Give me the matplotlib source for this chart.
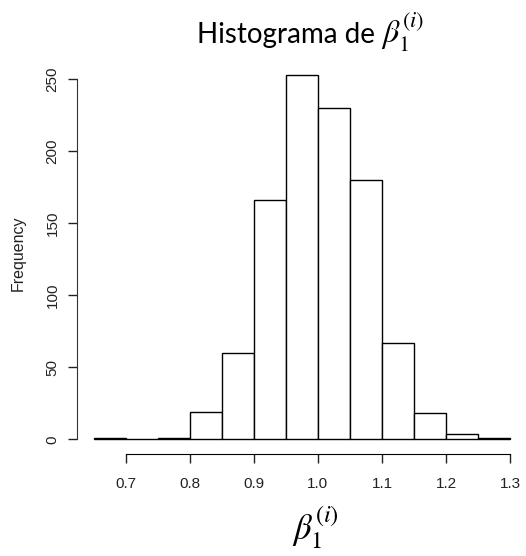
import numpy as np
import matplotlib
matplotlib.use('Agg')
import matplotlib.pyplot as plt

# bin edges and counts of the simulated slope estimates
bin_edges = [0.65, 0.70, 0.75, 0.80, 0.85, 0.90, 0.95, 1.00, 1.05, 1.10, 1.15, 1.20, 1.25, 1.30]
counts = [1, 0, 1, 19, 60, 166, 253, 230, 180, 67, 18, 4, 1]
x_ticks = [0.7, 0.8, 0.9, 1.0, 1.1, 1.2, 1.3]
y_ticks = [0, 50, 100, 150, 200, 250]

plt.rcParams['mathtext.fontset'] = 'stix'
plt.rcParams['font.family'] = ['Liberation Sans', 'DejaVu Sans']

fig = plt.figure(figsize=(5.26, 5.56), dpi=100)
ax = fig.add_axes([0.1464, 0.1835, 0.855, 0.7085])

lefts = np.array(bin_edges[:-1])
widths = np.diff(bin_edges)
ax.bar(lefts, counts, width=widths, align='edge', color='white',
       edgecolor='black', linewidth=1.0)

ax.set_xlim(0.624, 1.326)
ax.set_ylim(-10.12, 263.1)

# R style axes: only the spans of the ticks are drawn
for s in ['top', 'right']:
    ax.spines[s].set_visible(False)
ax.spines['left'].set_bounds(0, 250)
ax.spines['bottom'].set_bounds(0.7, 1.3)
ax.spines['left'].set_color('#333333')
ax.spines['bottom'].set_color('black')

ax.set_xticks(x_ticks)
ax.set_xticklabels(['%.1f' % v for v in x_ticks])
ax.set_yticks(y_ticks)
ax.set_yticklabels([str(v) for v in y_ticks], rotation=90, va='center')
ax.tick_params(axis='both', length=6.5, width=1, labelsize=11, colors='#222222')
ax.tick_params(axis='x', pad=10)
ax.tick_params(axis='y', pad=6)

fig.text(18 / 526, 0.545, 'Frequency', fontsize=11.5, rotation=90,
         ha='center', va='center', color='#222222')

# title: plain words plus a slightly larger math symbol
fig.text(0.713, 0.922, 'Histograma de', family='Lato',
         fontsize=20, ha='right', va='baseline')
fig.text(0.724, 0.922, r'$\beta_1^{(i)}$', fontsize=23, ha='left', va='baseline')
fig.text(0.599, 0.03, r'$\beta_1^{(i)}$', fontsize=25, ha='center', va='baseline')

plt.savefig('out.png', dpi=100)
